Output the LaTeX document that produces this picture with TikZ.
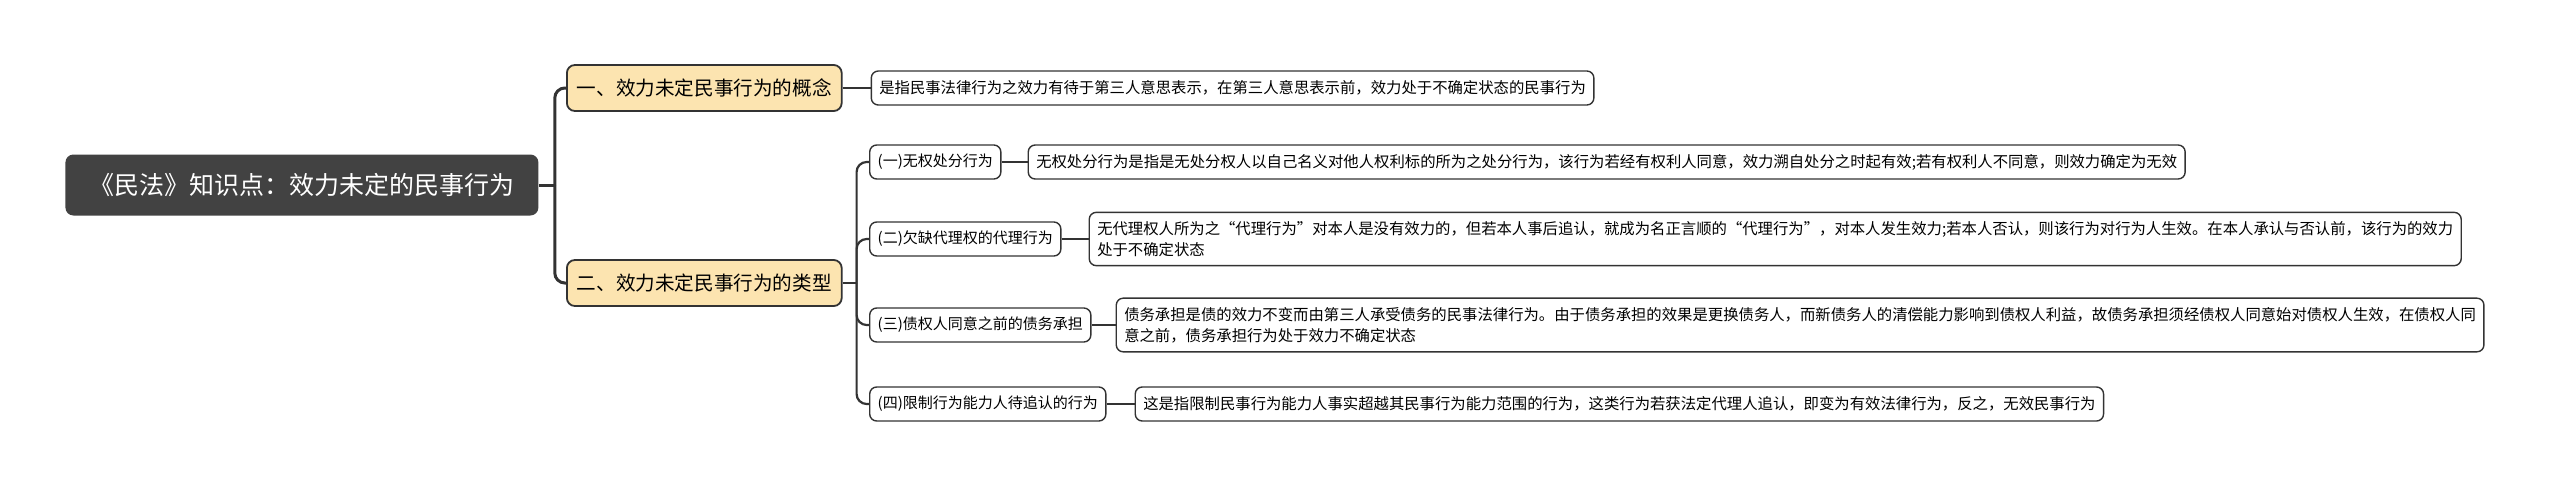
\documentclass[tikz,border=0pt]{standalone}
\usepackage{fontspec}
\newfontfamily\cjk{Noto Sans CJK SC}
\usetikzlibrary{positioning}
\definecolor{rootgray}{HTML}{424242}
\definecolor{topicfill}{HTML}{FCE4B0}
\definecolor{linegray}{HTML}{333333}

\begin{document}
\begin{tikzpicture}[x=0.5pt,y=-0.5pt,
	% Root style
	rootbox/.style={rectangle,rounded corners=4pt,fill=rootgray,text=white,font=\cjk\fontsize{12.5}{15}\selectfont,minimum height=30.5pt,inner xsep=12pt,anchor=west},
	% Topic style
	topicbox/.style={rectangle,rounded corners=4pt,draw=linegray,line width=0.9pt,fill=topicfill,font=\cjk\fontsize{9.8}{12}\selectfont,minimum height=23pt,inner xsep=5pt,anchor=west},
	% Subtopic and text style
	subbox/.style={rectangle,rounded corners=3.5pt,draw=linegray,line width=0.7pt,fill=white,font=\cjk\fontsize{7.5}{10.5}\selectfont,minimum height=17pt,inner xsep=4pt,inner ysep=4.5pt,align=left},
	textbox/.style={subbox,font=\cjk\fontsize{7.68}{10.5}\selectfont},
	% Edge style
	trunk/.style={draw=linegray,line width=1.5pt},
	twig/.style={draw=linegray,line width=1.1pt}
	]
	\useasboundingbox (0,0) rectangle (2560,487);
	%% Draw topics
	\node (root) [rootbox] at (65,185) {《民法》知识点：效力未定的民事行为};
	\node (con) [topicbox] at (566,88) {一、效力未定民事行为的概念};
	\node (typ) [topicbox] at (566,283) {二、效力未定民事行为的类型};
	\node (dc) [textbox,right=14pt of con] {是指民事法律行为之效力有待于第三人意思表示，在第三人意思表示前，效力处于不确定状态的民事行为};
	%% Types
	\node (t1) [subbox,anchor=west] at (869,162) {(一)无权处分行为};
	\node (t2) [subbox,anchor=west] at (869,239) {(二)欠缺代理权的代理行为};
	\node (t3) [subbox,anchor=west] at (869,325) {(三)债权人同意之前的债务承担};
	\node (t4) [subbox,anchor=west] at (869,404) {(四)限制行为能力人待追认的行为};
	\node (d1) [textbox,right=13pt of t1] {无权处分行为是指是无处分权人以自己名义对他人权利标的所为之处分行为，该行为若经有权利人同意，效力溯自处分之时起有效;若有权利人不同意，则效力确定为无效};
	\node (d2) [textbox,right=13.5pt of t2] {无代理权人所为之“代理行为”对本人是没有效力的，但若本人事后追认，就成为名正言顺的“代理行为”，对本人发生效力;若本人否认，则该行为对行为人生效。在本人承认与否认前，该行为的效力\\处于不确定状态};
	\node (d3) [textbox,right=12pt of t3] {债务承担是债的效力不变而由第三人承受债务的民事法律行为。由于债务承担的效果是更换债务人，而新债务人的清偿能力影响到债权人利益，故债务承担须经债权人同意始对债权人生效，在债权人同\\意之前，债务承担行为处于效力不确定状态};
	\node (d4) [textbox,right=14pt of t4] {这是指限制民事行为能力人事实超越其民事行为能力范围的行为，这类行为若获法定代理人追认，即变为有效法律行为，反之，无效民事行为};
	%% Draw edges
	\draw [trunk] (root.east) -- ++(16,0) coordinate (rj);
	\draw [trunk,rounded corners=5pt] (rj) |- (con.west);
	\draw [trunk,rounded corners=5pt] (rj) |- (typ.west);
	\draw [twig] (con.east) -- (dc.west);
	\draw [twig] (typ.east) -- ++(14,0) coordinate (tj);
	\foreach \n in {1,...,4} {
		\draw [twig,rounded corners=5pt] (tj) |- (t\n.west);
		\draw [twig] (t\n.east) -- (d\n.west);
	}
\end{tikzpicture}
\end{document}
